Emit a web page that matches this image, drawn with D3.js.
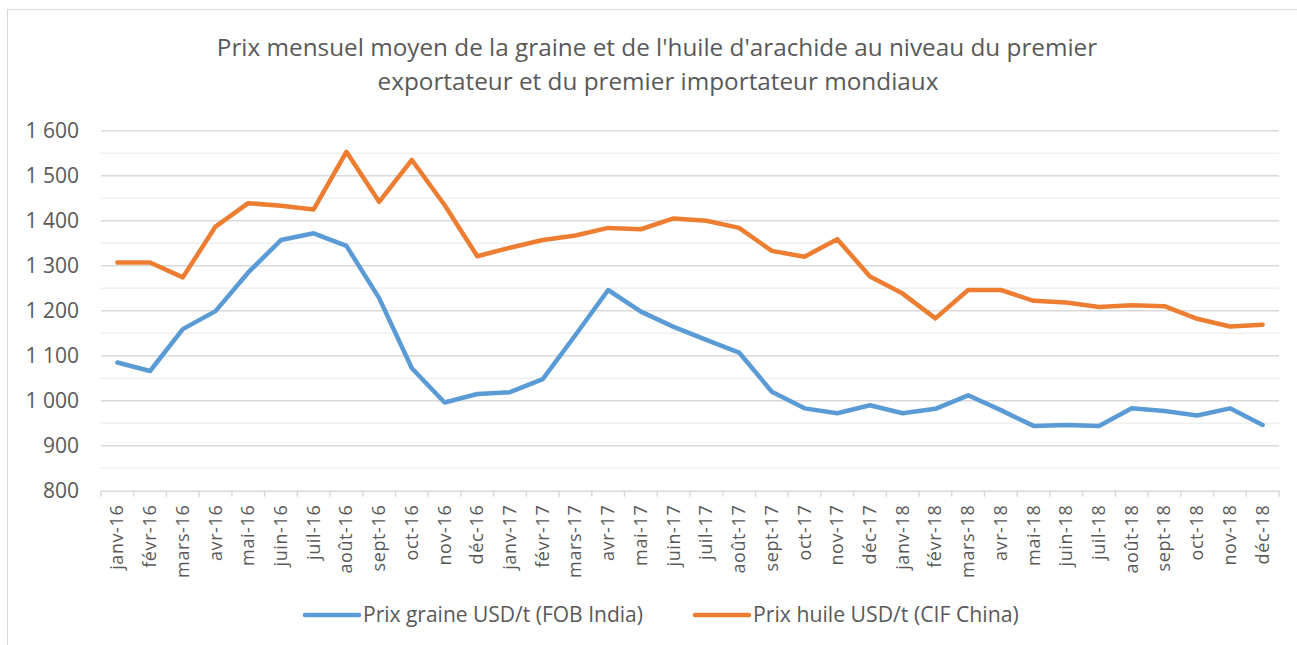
<html>
<head>
    <meta charset="utf-8">
    <script src="https://d3js.org/d3.v7.min.js"></script>
    <style>
        body { margin: 0; background: #ffffff; }
        svg text { font-family: "Open Sans", "Liberation Sans", sans-serif; fill: #595959; }
    </style>
</head>
<body>
    <svg id="chart"></svg>
    <script>
        // les mois (36 categories)
        var months = ["janv-16","févr-16","mars-16","avr-16","mai-16","juin-16","juil-16","août-16","sept-16","oct-16","nov-16","déc-16",
                      "janv-17","févr-17","mars-17","avr-17","mai-17","juin-17","juil-17","août-17","sept-17","oct-17","nov-17","déc-17",
                      "janv-18","févr-18","mars-18","avr-18","mai-18","juin-18","juil-18","août-18","sept-18","oct-18","nov-18","déc-18"];

        // prix graine USD/t (FOB India)
        var graine = [1085, 1066, 1159, 1199, 1285, 1357, 1372, 1344, 1228, 1072, 996, 1015,
                      1019, 1048, 1146, 1246, 1198, 1164, 1135, 1107, 1020, 983, 972, 990,
                      972, 982, 1012, 979, 944, 946, 944, 983, 977, 967, 983, 946];

        // prix huile USD/t (CIF China)
        var huile = [1307, 1307, 1274, 1387, 1439, 1433, 1425, 1553, 1442, 1535, 1435, 1321,
                     1340, 1357, 1367, 1384, 1381, 1405, 1400, 1384, 1333, 1320, 1359, 1276,
                     1238, 1183, 1246, 1246, 1222, 1218, 1208, 1212, 1210, 1182, 1165, 1169];

        var yTicks = [800, 900, 1000, 1100, 1200, 1300, 1400, 1500, 1600];
        var yMinor = [850, 950, 1050, 1150, 1250, 1350, 1450, 1550];

        var titleLines = ["Prix mensuel moyen de la graine et de l'huile d'arachide au niveau du premier",
                          "exportateur et du premier importateur mondiaux"];

        var series = [
            {name: "Prix graine USD/t (FOB India)", values: graine, color: "#5b9bd5"},
            {name: "Prix huile USD/t (CIF China)", values: huile, color: "#ed7d31"}
        ];

        var W = 1297, H = 645;
        var svg = d3.select("#chart").attr("width", W).attr("height", H);

        // cadre du graphique
        svg.append("rect")
            .attr("x", 7.5).attr("y", 9.5)
            .attr("width", W + 10).attr("height", H + 10)
            .attr("fill", "none")
            .attr("stroke", "#d9d9d9")
            .attr("stroke-width", 1);

        // ajuste la taille de police pour une largeur donnee
        function fitText(t, target) {
            var len = t.node().getComputedTextLength();
            var fs = parseFloat(t.style("font-size"));
            t.style("font-size", (fs * target / len) + "px");
        }

        // titre
        var t1 = svg.append("text").attr("x", 657).attr("y", 56)
            .attr("text-anchor", "middle").style("font-size", "20px").text(titleLines[0]);
        fitText(t1, 881);
        svg.append("text").attr("x", 658).attr("y", 90)
            .attr("text-anchor", "middle").style("font-size", t1.style("font-size")).text(titleLines[1]);

        // echelles
        var x = d3.scaleBand().domain(months).range([101, 1279]);
        var y = d3.scaleLinear().domain([800, 1600]).range([490.7, 130.7]);

        // grille secondaire (50)
        svg.append("g").selectAll("line").data(yMinor).enter()
            .append("line")
            .attr("x1", 101).attr("x2", 1279)
            .attr("y1", d => y(d)).attr("y2", d => y(d))
            .attr("stroke", "#f0f0f0").attr("stroke-width", 1.5);

        // grille principale (100)
        svg.append("g").selectAll("line").data(yTicks.filter(d => d > 800)).enter()
            .append("line")
            .attr("x1", 101).attr("x2", 1279)
            .attr("y1", d => y(d)).attr("y2", d => y(d))
            .attr("stroke", "#d9d9d9").attr("stroke-width", 1.5);

        // axe y : seulement les etiquettes
        var yAxis = svg.append("g")
            .attr("transform", "translate(79,0)")
            .call(d3.axisLeft(y).tickValues(yTicks).tickSize(0).tickPadding(0)
                .tickFormat(d => d3.format(",")(d).replace(",", " ")));
        yAxis.select(".domain").remove();
        yAxis.selectAll("text")
            .style("font-size", "21px")
            .style("font-family", null)
            .attr("fill", null);

        // axe x
        var xAxis = svg.append("g").attr("transform", "translate(0," + y(800) + ")")
            .call(d3.axisBottom(x).tickSize(0).tickFormat(""));
        xAxis.select(".domain").attr("stroke", "#d9d9d9").attr("stroke-width", 1.5);
        xAxis.selectAll(".tick").remove();

        // petites graduations entre les categories
        var bounds = months.map(m => x(m)).concat([x.range()[1]]);
        xAxis.selectAll("line.sep").data(bounds).enter()
            .append("line").attr("class", "sep")
            .attr("x1", d => d).attr("x2", d => d)
            .attr("y1", 0).attr("y2", 6)
            .attr("stroke", "#d9d9d9").attr("stroke-width", 1.5);

        // etiquettes des mois, verticales
        xAxis.selectAll("text.mois").data(months).enter()
            .append("text").attr("class", "mois")
            .attr("transform", d => "translate(" + (x(d) + x.bandwidth() / 2 + 6) + ",14) rotate(-90)")
            .attr("text-anchor", "end")
            .style("font-size", "18px")
            .style("letter-spacing", "0.6px")
            .text(d => d);

        // les courbes
        var line = d3.line()
            .x((d, i) => x(months[i]) + x.bandwidth() / 2)
            .y(d => y(d));

        svg.append("g").selectAll("path").data(series).enter()
            .append("path")
            .attr("d", d => line(d.values))
            .attr("fill", "none")
            .attr("stroke", d => d.color)
            .attr("stroke-width", 4.5)
            .attr("stroke-linejoin", "round")
            .attr("stroke-linecap", "round");

        // legende
        var legendX = [305, 695];
        var legendW = [280, 266];
        series.forEach(function(s, i) {
            var g = svg.append("g").attr("transform", "translate(" + legendX[i] + ",615)");
            g.append("line")
                .attr("x1", 0).attr("x2", 54).attr("y1", 0).attr("y2", 0)
                .attr("stroke", s.color).attr("stroke-width", 4.5)
                .attr("stroke-linecap", "round");
            var lt = g.append("text").attr("x", 58).attr("y", 0).attr("dy", "0.35em")
                .style("font-size", "18px").text(s.name);
            fitText(lt, legendW[i]);
        });
    </script>
</body>
</html>
